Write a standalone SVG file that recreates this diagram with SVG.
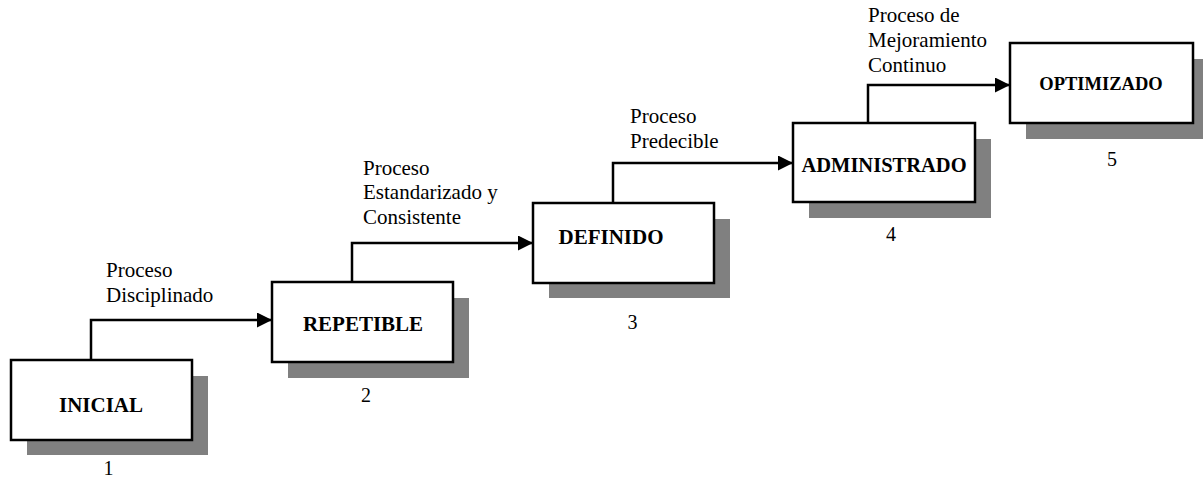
<svg xmlns="http://www.w3.org/2000/svg" width="1204" height="479" viewBox="0 0 1204 479">
  <style>
    .shadow { fill: #808080; }
    .box { fill: #ffffff; stroke: #000000; stroke-width: 2.5; }
    text { font-family: 'Liberation Serif', Tinos, 'Times New Roman', Times, 'Noto Serif', 'DejaVu Serif', serif; fill: #000; }
    .title { font-weight: bold; font-size: 21px; text-anchor: middle; }
    .label { font-size: 21px; }
    .num { font-size: 20px; text-anchor: middle; }
    .link { fill: none; stroke: #000000; stroke-width: 2.5; marker-end: url(#arrow); }
  </style>
  <defs>
    <marker id="arrow" markerUnits="userSpaceOnUse" markerWidth="16" markerHeight="16" refX="15" refY="7.5" orient="auto">
      <path d="M0,0 L15,7.5 L0,15 Z" fill="#000"/>
    </marker>
  </defs>
  <rect width="1204" height="479" fill="#ffffff"/>

  <!-- level 1 -->
  <g id="inicial">
    <rect class="shadow" x="27" y="376" width="181" height="79"/>
    <rect class="box" x="11" y="360" width="181" height="80"/>
    <text class="title" x="101" y="412">INICIAL</text>
    <text class="num" x="108.5" y="475">1</text>
  </g>

  <!-- level 2 -->
  <g id="repetible">
    <rect class="shadow" x="288" y="298" width="181" height="80"/>
    <rect class="box" x="272" y="282" width="181" height="80"/>
    <text class="title" x="363" y="331">REPETIBLE</text>
    <text class="num" x="366" y="402">2</text>
  </g>

  <!-- level 3 -->
  <g id="definido">
    <rect class="shadow" x="549" y="219" width="181" height="79"/>
    <rect class="box" x="533" y="203" width="181" height="80"/>
    <text class="title" x="611" y="244">DEFINIDO</text>
    <text class="num" x="632.5" y="329">3</text>
  </g>

  <!-- level 4 -->
  <g id="administrado">
    <rect class="shadow" x="809" y="139" width="182" height="79"/>
    <rect class="box" x="793" y="123" width="182" height="79"/>
    <text class="title" x="884" y="172" style="font-size:20.5px">ADMINISTRADO</text>
    <text class="num" x="891" y="241">4</text>
  </g>

  <!-- level 5 -->
  <g id="optimizado">
    <rect class="shadow" x="1026" y="59" width="177" height="80"/>
    <rect class="box" x="1010" y="43" width="183" height="80"/>
    <text class="title" x="1101" y="90" style="font-size:18.5px">OPTIMIZADO</text>
    <text class="num" x="1112" y="166">5</text>
  </g>

  <!-- step connectors with their labels -->
  <g id="connectors">
    <path class="link" d="M91,360 V320 H272"/>
    <path class="link" d="M352,282 V243 H533"/>
    <path class="link" d="M613,203 V163 H793"/>
    <path class="link" d="M868,123 V85 H1010"/>

    <text class="label" x="106" y="277">Proceso</text>
    <text class="label" x="106" y="302">Disciplinado</text>

    <text class="label" x="363" y="175">Proceso</text>
    <text class="label" x="363" y="199">Estandarizado y</text>
    <text class="label" x="363" y="224">Consistente</text>

    <text class="label" x="630" y="123">Proceso</text>
    <text class="label" x="630" y="148">Predecible</text>

    <text class="label" x="868" y="22">Proceso de</text>
    <text class="label" x="868" y="47">Mejoramiento</text>
    <text class="label" x="868" y="72">Continuo</text>
  </g>
</svg>
